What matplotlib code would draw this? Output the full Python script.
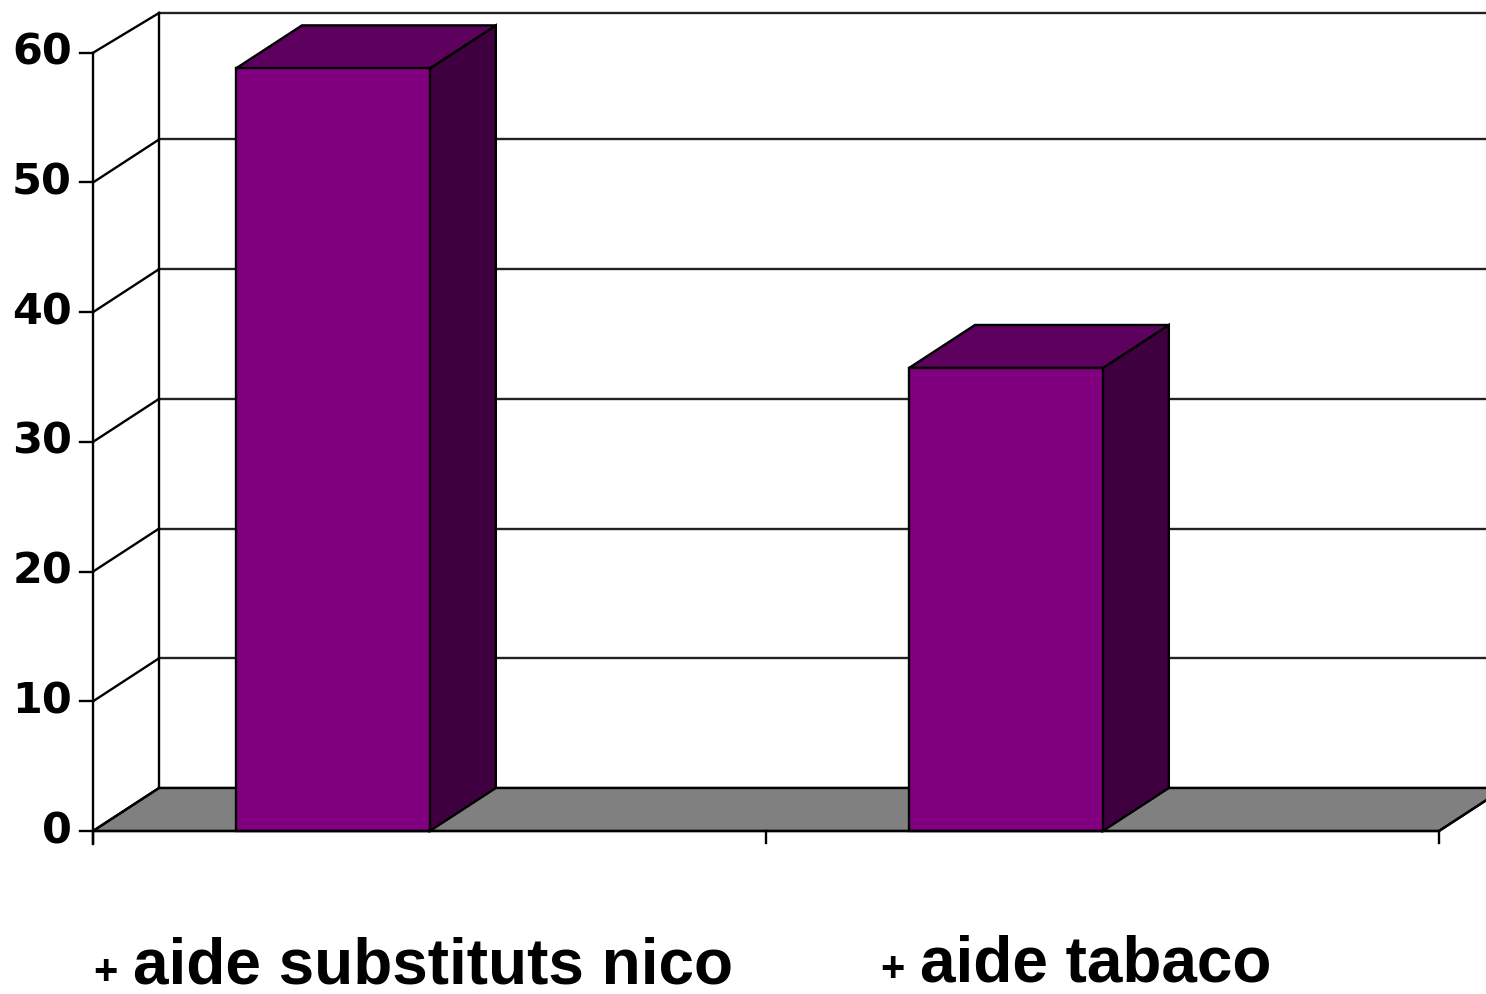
import matplotlib
matplotlib.use("Agg")
import matplotlib.pyplot as plt
from matplotlib.patches import Polygon

# data
categories = ["aide substituts nico", "aide tabaco"]
values = [58.8, 35.7]
y_ticks = [0, 10, 20, 30, 40, 50, 60]

# colours of the faces
FRONT = "#800080"
TOP = "#5E005E"
SIDE = "#3E003E"
FLOOR = "#808080"

W, H = 1486, 994
fig = plt.figure(figsize=(W / 100, H / 100), dpi=100)
ax = fig.add_axes([0, 0, 1, 1])
ax.set_axis_off()

# pixel scale of the plot: category axis 93..1439 px, 0 at row 831, 12.97 px per unit
ux = len(categories) / 1346.0
uy = 1 / 12.97
ax.set_xlim(-93 * ux, (W - 93) * ux)
ax.set_ylim((831 - H) * uy, 831 * uy)

DX = 66 * ux      # depth offset
DY = 43 * uy
ymax = y_ticks[-1]
xend = len(categories)
lw = 1.7

# floor
ax.add_patch(Polygon([(0, 0), (xend, 0), (xend + DX, DY), (DX, DY)],
                     closed=True, facecolor=FLOOR, edgecolor="black", lw=lw, zorder=1))

# back wall gridlines and side-wall diagonals
for t in y_ticks:
    yb = min(t + DY, 818 * uy)
    ax.plot([DX, ax.get_xlim()[1] + 1], [yb, yb], color="#222222", lw=lw, zorder=0.5)
    ax.plot([0, DX], [t, yb], color="black", lw=lw, zorder=2)
ax.plot([DX, DX], [DY, 818 * uy], color="black", lw=lw, zorder=2)

# front y axis with ticks
ax.plot([0, 0], [-1, ymax], color="black", lw=lw, zorder=5)
for t in y_ticks:
    ax.plot([-13 * ux, 0], [t, t], color="black", lw=lw, zorder=5)
    ax.text(-21 * ux, t, str(t), ha="right", va="center", fontsize=31,
            fontweight="bold", family="DejaVu Sans", color="black")

# front x axis with ticks
ax.plot([0, xend], [0, 0], color="black", lw=lw, zorder=5)
for i in range(len(categories) + 1):
    ax.plot([i, i], [0, -12 * uy], color="black", lw=lw, zorder=5)
ax.plot([xend, xend + DX], [0, DY], color="black", lw=lw, zorder=1.5)

# bars
bar_off = 0.2125
bar_w = 0.288
for i, v in enumerate(values):
    x0 = i + bar_off
    x1 = x0 + bar_w
    ax.add_patch(Polygon([(x1, 0), (x1 + DX, DY), (x1 + DX, v + DY), (x1, v)],
                         closed=True, facecolor=SIDE, edgecolor="black", lw=lw, zorder=3))
    ax.add_patch(Polygon([(x0, v), (x1, v), (x1 + DX, v + DY), (x0 + DX, v + DY)],
                         closed=True, facecolor=TOP, edgecolor="black", lw=lw, zorder=3))
    ax.add_patch(Polygon([(x0, 0), (x1, 0), (x1, v), (x0, v)],
                         closed=True, facecolor=FRONT, edgecolor="black", lw=lw, zorder=4))

# category labels with small bullets
label_x = [40 * ux, 154 * ux]
label_y = [(831 - 984) * uy, (831 - 981) * uy]
for i, name in enumerate(categories):
    x = i + label_x[i]
    ax.text(x, label_y[i], name, ha="left", va="baseline", fontsize=46,
            fontweight="bold", family="Liberation Sans", color="black")
    ax.text(x - 40 * ux, label_y[i], "+", ha="left", va="baseline", fontsize=30,
            fontweight="bold", family="Liberation Sans", color="black")

fig.savefig("out.png", dpi=100)
